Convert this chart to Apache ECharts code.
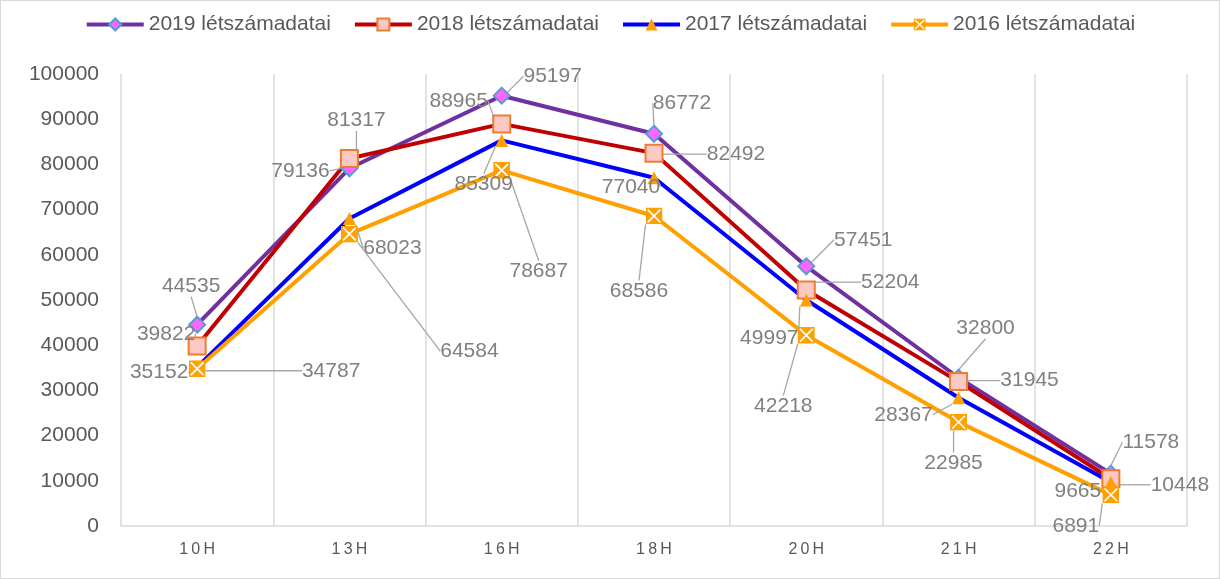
<!DOCTYPE html>
<html>
<head>
<meta charset="utf-8">
<script src="https://cdn.jsdelivr.net/npm/echarts@6/dist/echarts.min.js"></script>
<style>
  html, body { margin: 0; padding: 0; background: #fff; }
  #chart { width: 1220px; height: 579px; box-sizing: border-box; border: 1px solid #d9d9d9; }
</style>
</head>
<body>
<div id="chart"></div>
<script>
// adatok
const hours = ['10H', '13H', '16H', '18H', '20H', '21H', '22H'];
const seriesNames = ['2019 létszámadatai', '2018 létszámadatai', '2017 létszámadatai', '2016 létszámadatai'];
const data2019 = [44535, 79136, 95197, 86772, 57451, 32800, 11578];
const data2018 = [39822, 81317, 88965, 82492, 52204, 31945, 10448];
const data2017 = [35152, 68023, 85309, 77040, 49997, 28367, 9665];
const data2016 = [34787, 64584, 78687, 68586, 42218, 22985, 6891];

// címkék eltolása (dx, dy) a pont feletti alaphelyzethez képest
const labelShift = [
  [[-6, -14], [-49, 27], [51, 5], [28, -6], [57, -2], [27, -25], [40, -7]],
  [[-31, 13], [7, -13], [-43, 2], [82, 26], [84, 17], [71, 24], [69, 31]],
  [[-38, 27], [43, 52], [-18, 66], [-23, 31], [-37, 60], [-55, 39], [-33, 31]],
  [[134, 26], [120, 141], [37, 125], [-15, 99], [-23, 95], [-5, 65], [-35, 55]]
];

const xMarker = 'image://data:image/svg+xml;utf8,' + encodeURIComponent(
  "<svg xmlns='http://www.w3.org/2000/svg' width='16' height='16'>" +
  "<rect x='0' y='0' width='16' height='16' fill='#ffa000'/>" +
  "<path d='M2 2L14 14M14 2L2 14' stroke='#ffffff' stroke-width='1.6'/></svg>");

const chart = echarts.init(document.getElementById('chart'));

function makeSeries(name, data, color, symbol, size, itemStyle) {
  return {
    name: name,
    type: 'line',
    data: data,
    symbol: symbol,
    symbolSize: size,
    showAllSymbol: true,
    lineStyle: { color: color, width: 4 },
    itemStyle: itemStyle,
    label: {
      show: true,
      position: 'top',
      color: '#808080',
      fontSize: 21,
      fontFamily: 'Liberation Sans'
    },
    labelLine: {
      show: true,
      lineStyle: { color: '#a6a6a6', width: 1.3 }
    },
    emphasis: { disabled: true }
  };
}

const option = {
  animation: false,
  textStyle: { fontFamily: 'Liberation Sans' },
  legend: {
    top: 8,
    left: 'center',
    itemWidth: 57,
    itemHeight: 15,
    itemGap: 22,
    lineStyle: { width: 4 },
    textStyle: { color: '#595959', fontSize: 21 },
    data: seriesNames
  },
  grid: { left: 120, right: 32, top: 73, bottom: 52 },
  xAxis: {
    type: 'category',
    data: hours,
    boundaryGap: true,
    axisLine: { lineStyle: { color: '#d9d9d9', width: 1.5 } },
    axisTick: { show: false },
    axisLabel: {
      color: '#595959',
      fontSize: 16,
      margin: 16,
      formatter: function (v) { return v.split('').join('\u2009'); }
    },
    splitLine: { show: true, lineStyle: { color: '#d9d9d9', width: 1.5 } }
  },
  yAxis: {
    type: 'value',
    min: 0,
    max: 100000,
    interval: 10000,
    axisLine: { show: false },
    axisTick: { show: false },
    splitLine: { show: false },
    axisLabel: {
      color: '#595959',
      fontSize: 21,
      margin: 22,
      formatter: function (v) { return String(v); }
    }
  },
  labelLayout: function (p) {
    const s = labelShift[p.seriesIndex] && labelShift[p.seriesIndex][p.dataIndex];
    if (!s) return {};
    return { dx: s[0], dy: s[1] };
  },
  series: [
    makeSeries(seriesNames[0], data2019, '#7030a0', 'diamond', 16,
      { color: '#ff66ff', borderColor: '#5b9bd5', borderWidth: 2 }),
    makeSeries(seriesNames[1], data2018, '#c00000', 'rect', 17,
      { color: '#fcc8c4', borderColor: '#ed7d31', borderWidth: 2 }),
    makeSeries(seriesNames[2], data2017, '#0000ff', 'triangle', 13,
      { color: '#ffa000', borderWidth: 0 }),
    makeSeries(seriesNames[3], data2016, '#ffa000', xMarker, 17,
      { color: '#ffa000' })
  ]
};

chart.setOption(option);
</script>
</body>
</html>
